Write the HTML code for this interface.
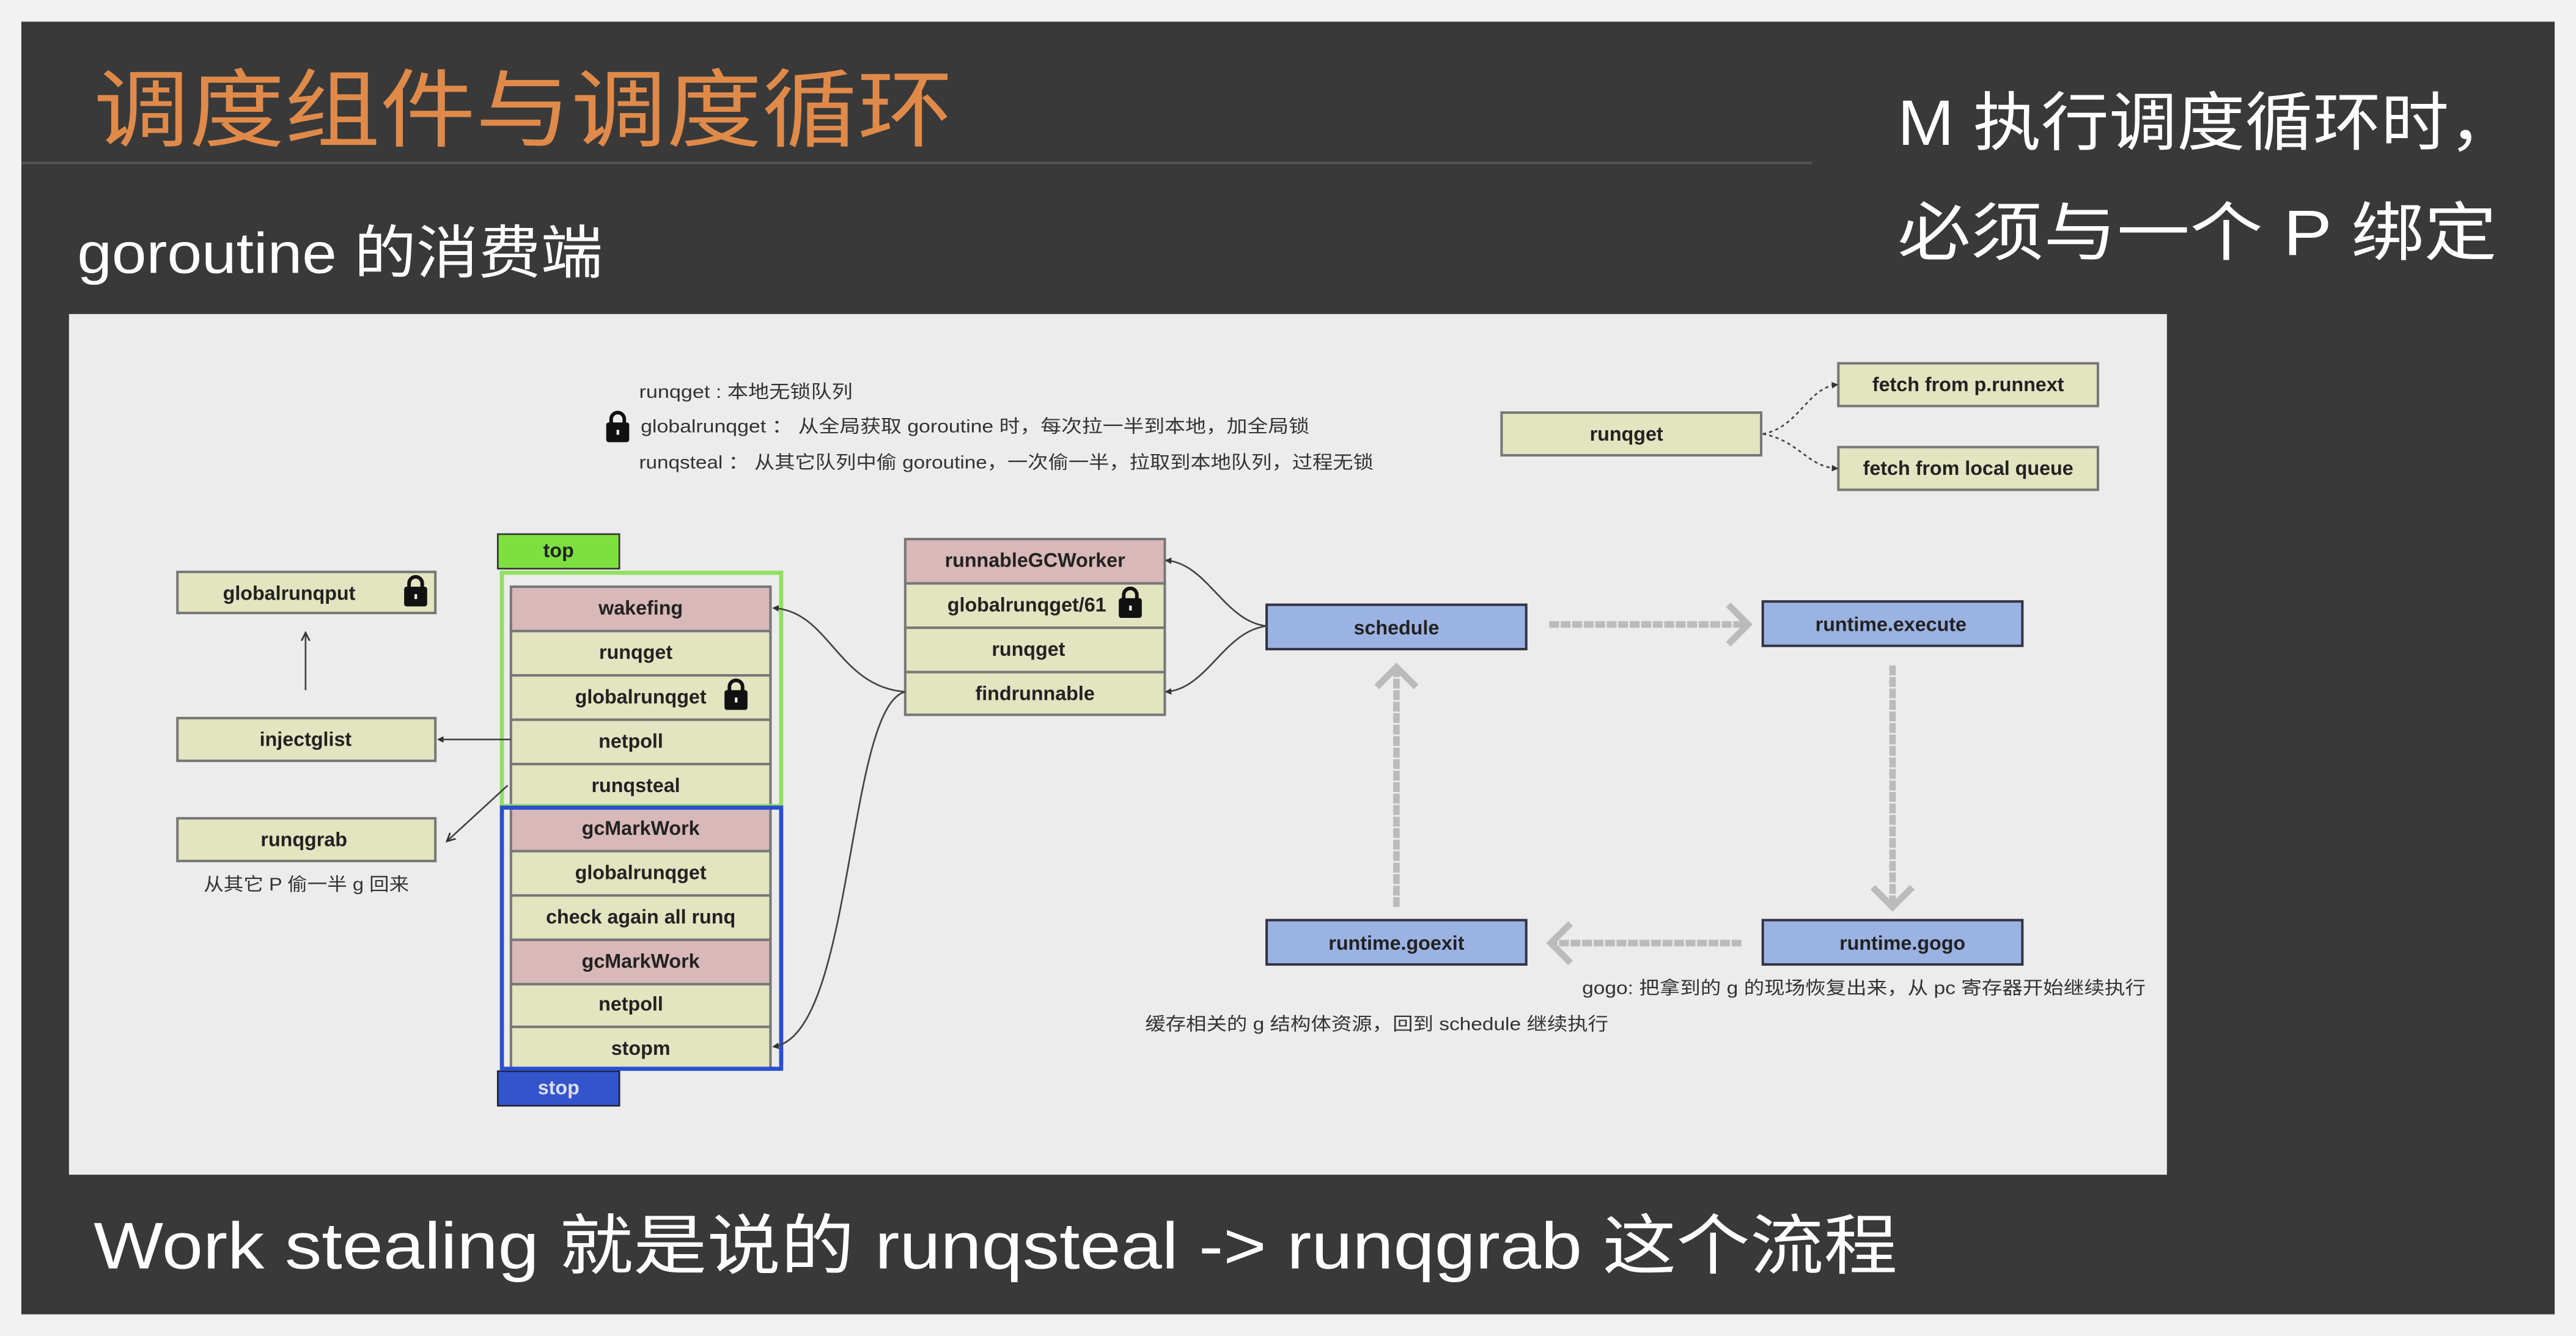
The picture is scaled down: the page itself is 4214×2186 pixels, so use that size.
<!DOCTYPE html>
<html><head><meta charset="utf-8"><style>
html,body{margin:0;padding:0;width:4214px;height:2186px;overflow:hidden;background:#f2f2f2}
svg{display:block}
</style></head><body>
<svg width="4214" height="2186" viewBox="0 0 1568 813" xmlns="http://www.w3.org/2000/svg" font-family="'Liberation Sans','Noto Sans CJK SC',sans-serif">
<defs>
<marker id="a" markerWidth="6" markerHeight="6" refX="5" refY="3" orient="auto"><path d="M0,0.5 L5,3 L0,5.5" fill="none" stroke="#333" stroke-width="1"/></marker>
<marker id="s" markerWidth="4" markerHeight="4" refX="3" refY="2" orient="auto"><path d="M0,0 L4,2 L0,4z" fill="#333"/></marker>
<g id="lock"><rect x="0" y="7" width="14" height="12" rx="1.5" fill="#111"/><path d="M3,8 V5 a4,4 0 0 1 8,0 V8" fill="none" stroke="#111" stroke-width="2.2"/><rect x="6.3" y="11.5" width="1.6" height="3" fill="#eee"/></g>
</defs>
<rect x="0" y="0" width="1568" height="813" fill="#f2f2f2"/>
<rect x="13" y="13" width="1542" height="787" fill="#393939"/>
<text x="57" y="85" font-size="52" fill="#e08a4a" textLength="523" lengthAdjust="spacingAndGlyphs">调度组件与调度循环</text>
<line x1="13" y1="99" x2="1103" y2="99" stroke="#555" stroke-width="1.5"/>
<text x="1155" y="88" font-size="39" fill="#fff" textLength="377" lengthAdjust="spacingAndGlyphs">M 执行调度循环时，</text>
<text x="1155" y="155" font-size="39" fill="#fff" textLength="365" lengthAdjust="spacingAndGlyphs">必须与一个 P 绑定</text>
<text x="47" y="166" font-size="35" fill="#fff" textLength="320" lengthAdjust="spacingAndGlyphs">goroutine 的消费端</text>
<text x="57" y="772" font-size="40" fill="#fff" textLength="1098" lengthAdjust="spacingAndGlyphs">Work stealing 就是说的 runqsteal -&gt; runqgrab 这个流程</text>
<rect x="42" y="191" width="1277" height="524" fill="#ececec"/>

<g font-size="11" fill="#333">
<text x="389" y="242" textLength="130" lengthAdjust="spacingAndGlyphs">runqget : 本地无锁队列</text>
<text x="390" y="263" textLength="407" lengthAdjust="spacingAndGlyphs">globalrunqget ： 从全局获取 goroutine 时，每次拉一半到本地，加全局锁</text>
<text x="389" y="285" textLength="447" lengthAdjust="spacingAndGlyphs">runqsteal ： 从其它队列中偷 goroutine，一次偷一半，拉取到本地队列，过程无锁</text>
<text x="124" y="542" textLength="125" lengthAdjust="spacingAndGlyphs">从其它 P 偷一半 g 回来</text>
<text x="963" y="605" textLength="343" lengthAdjust="spacingAndGlyphs">gogo: 把拿到的 g 的现场恢复出来，从 pc 寄存器开始继续执行</text>
<text x="697" y="627" textLength="282" lengthAdjust="spacingAndGlyphs">缓存相关的 g 结构体资源，回到 schedule 继续执行</text>
</g>
<use href="#lock" x="369" y="250"/>

<g stroke="#777" stroke-width="1.5" fill="#e3e4c0">
<rect x="914" y="251" width="158" height="26"/>
<rect x="1119" y="221" width="158" height="26"/>
<rect x="1119" y="272" width="158" height="26"/>
<rect x="108" y="348" width="157" height="25"/>
<rect x="108" y="437" width="157" height="26"/>
<rect x="108" y="498" width="157" height="26"/>
<rect x="311" y="357" width="158" height="27" fill="#d8b8b8"/>
<rect x="311" y="384" width="158" height="27"/>
<rect x="311" y="411" width="158" height="27"/>
<rect x="311" y="438" width="158" height="27"/>
<rect x="311" y="465" width="158" height="26"/>
<rect x="311" y="492" width="158" height="26" fill="#d8b8b8"/>
<rect x="311" y="518" width="158" height="27"/>
<rect x="311" y="545" width="158" height="27"/>
<rect x="311" y="572" width="158" height="27" fill="#d8b8b8"/>
<rect x="311" y="599" width="158" height="26"/>
<rect x="311" y="625" width="158" height="26"/>
<rect x="551" y="328" width="158" height="27" fill="#d8b8b8"/>
<rect x="551" y="355" width="158" height="27"/>
<rect x="551" y="382" width="158" height="27"/>
<rect x="551" y="409" width="158" height="26"/>
<rect x="771" y="368" width="158" height="27" fill="#9bb3e3" stroke="#334"/>
<rect x="1073" y="366" width="158" height="27" fill="#9bb3e3" stroke="#334"/>
<rect x="1073" y="560" width="158" height="27" fill="#9bb3e3" stroke="#334"/>
<rect x="771" y="560" width="158" height="27" fill="#9bb3e3" stroke="#334"/>
</g>
<rect x="303" y="325" width="74" height="21" fill="#7ee040" stroke="#333" stroke-width="1"/>
<rect x="303" y="652" width="74" height="21" fill="#3355cc" stroke="#223" stroke-width="1"/>
<rect x="305.5" y="348.5" width="170" height="142" fill="none" stroke="#8fe060" stroke-width="2.5"/>
<rect x="305.5" y="491.5" width="170" height="159" fill="none" stroke="#2a4fd0" stroke-width="2.5"/>

<g font-size="12" font-weight="bold" fill="#222" text-anchor="middle">
<text x="340" y="339">top</text>
<text x="340" y="666" fill="#dde">stop</text>
<text x="990" y="268">runqget</text>
<text x="1198" y="238">fetch from p.runnext</text>
<text x="1198" y="289">fetch from local queue</text>
<text x="176" y="365">globalrunqput</text>
<text x="186" y="454">injectglist</text>
<text x="185" y="515">runqgrab</text>
<text x="390" y="374">wakefing</text>
<text x="387" y="401">runqget</text>
<text x="390" y="428">globalrunqget</text>
<text x="384" y="455">netpoll</text>
<text x="387" y="482">runqsteal</text>
<text x="390" y="508">gcMarkWork</text>
<text x="390" y="535">globalrunqget</text>
<text x="390" y="562">check again all runq</text>
<text x="390" y="589">gcMarkWork</text>
<text x="384" y="615">netpoll</text>
<text x="390" y="642">stopm</text>
<text x="630" y="345">runnableGCWorker</text>
<text x="625" y="372">globalrunqget/61</text>
<text x="626" y="399">runqget</text>
<text x="630" y="426">findrunnable</text>
<text x="850" y="386">schedule</text>
<text x="1151" y="384">runtime.execute</text>
<text x="1158" y="578">runtime.gogo</text>
<text x="850" y="578">runtime.goexit</text>
</g>
<use href="#lock" x="246" y="350"/>
<use href="#lock" x="441" y="413"/>
<use href="#lock" x="681" y="357"/>

<g fill="none" stroke="#444" stroke-width="1">
<path d="M1073,264 C1095,260 1100,236 1118,234" stroke-dasharray="2,2" marker-end="url(#s)"/>
<path d="M1073,264 C1095,268 1100,284 1118,285" stroke-dasharray="2,2" marker-end="url(#s)"/>
<line x1="186" y1="420" x2="186" y2="385" marker-end="url(#a)"/>
<line x1="311" y1="450" x2="267" y2="450" marker-end="url(#s)"/>
<line x1="309" y1="478" x2="272" y2="512" marker-end="url(#a)"/>
<path d="M771,381 C745,378 735,343 710,341" marker-end="url(#s)"/>
<path d="M771,381 C745,384 735,419 710,421" marker-end="url(#s)"/>
<path d="M551,421 C510,418 505,372 471,370" marker-end="url(#s)"/>
<path d="M551,421 C515,430 520,630 471,637" marker-end="url(#s)"/>
</g>
<g fill="none" stroke="#bbb" stroke-width="4">
<line x1="943" y1="380" x2="1062" y2="380" stroke-dasharray="6,1"/>
<path d="M1052,368 L1064,380 L1052,392"/>
<line x1="1152" y1="405" x2="1152" y2="550" stroke-dasharray="6,1"/>
<path d="M1140,540 L1152,552 L1164,540"/>
<line x1="1060" y1="574" x2="946" y2="574" stroke-dasharray="6,1"/>
<path d="M956,562 L944,574 L956,586"/>
<line x1="850" y1="552" x2="850" y2="408" stroke-dasharray="6,1"/>
<path d="M838,418 L850,406 L862,418"/>
</g>
</svg>
</body></html>
